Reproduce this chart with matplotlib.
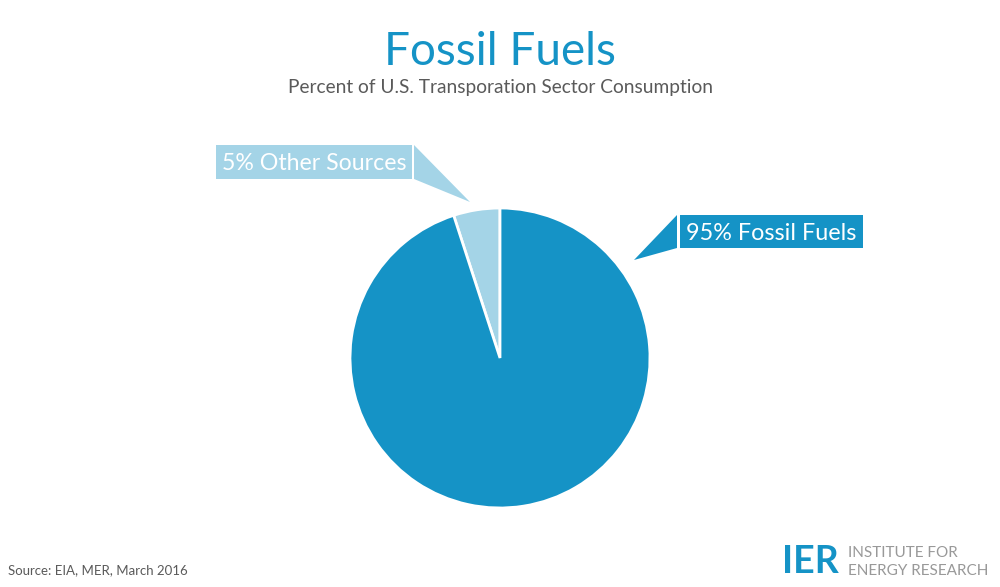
import matplotlib
matplotlib.use("Agg")
import matplotlib.pyplot as plt
from matplotlib.patches import Polygon, Rectangle

plt.rcParams['font.family'] = ['Lato', 'DejaVu Sans']

categories = ["Other Sources", "Fossil Fuels"]
values = [5, 95]
colors = ["#A4D4E7", "#1593C6"]
labels = ["5% Other Sources", "95% Fossil Fuels"]

W, H = 1000, 587
fig = plt.figure(figsize=(10, 5.87), dpi=100)
ax = fig.add_axes([0, 0, 1, 1])

def Y(y):
    return H - y

ax.pie(values, colors=colors, startangle=90, counterclock=True,
       center=(500, Y(358)), radius=150, frame=True,
       wedgeprops=dict(edgecolor='white', linewidth=2))
ax.set_xlim(0, W)
ax.set_ylim(0, H)
ax.set_aspect('equal')
ax.axis('off')

# Callout for Other Sources
ax.add_patch(Rectangle((216, Y(179)), 196, 34, facecolor=colors[0], edgecolor='none'))
ax.add_patch(Polygon([(414, Y(145)), (414, Y(179)), (470, Y(202))], closed=True,
                     facecolor=colors[0], edgecolor='none'))
ax.text(314, Y(163), labels[0], color='white', fontsize=16.7, ha='center', va='center')

# Callout for Fossil Fuels
ax.add_patch(Rectangle((680, Y(248)), 183, 33, facecolor=colors[1], edgecolor='none'))
ax.add_patch(Polygon([(677, Y(215)), (677, Y(248)), (634, Y(260))], closed=True,
                     facecolor=colors[1], edgecolor='none'))
ax.text(771, Y(233), labels[1], color='white', fontsize=16.8, ha='center', va='center')

# Titles
ax.text(500, Y(52), "Fossil Fuels", color="#1593C6", fontsize=33, ha='center', va='center')
ax.text(500, Y(87), "Percent of U.S. Transporation Sector Consumption", color="#5a5a5a",
        fontsize=13.75, ha='center', va='center')

# Source
ax.text(8, Y(570), "Source: EIA, MER, March 2016", color="#5a5a5a", fontsize=9.5,
        ha='left', va='center')

# Logo
ax.text(782, Y(562), "IER", color="#1593C6", fontsize=27, fontweight='bold',
        ha='left', va='center')
ax.text(848, Y(553), "INSTITUTE FOR", color="#999999", fontsize=11, ha='left', va='center')
ax.text(848, Y(571), "ENERGY RESEARCH", color="#999999", fontsize=11, ha='left', va='center')

fig.savefig("out.png", dpi=100)
